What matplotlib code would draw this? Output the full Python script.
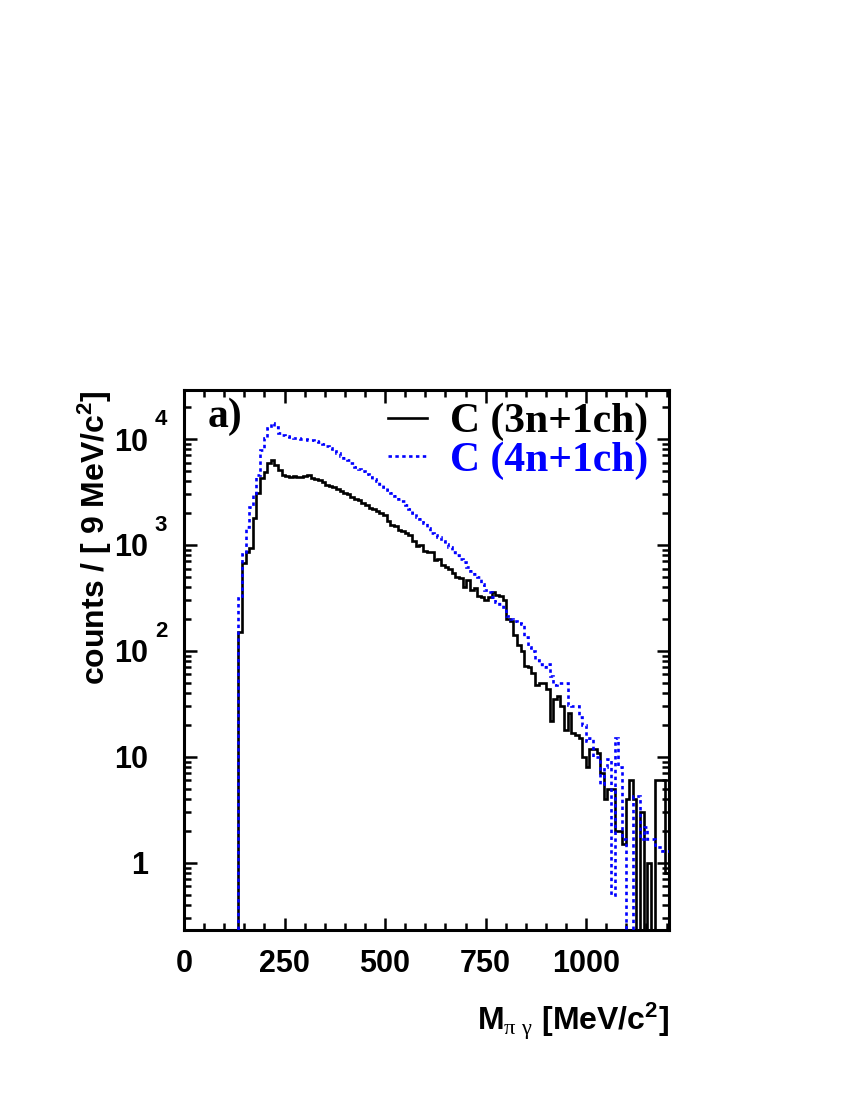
import numpy as np
import matplotlib.pyplot as plt
from matplotlib.lines import Line2D
from matplotlib.ticker import FixedLocator, MultipleLocator, LogLocator, NullFormatter
import matplotlib.transforms as mtransforms

plt.rcParams['mathtext.fontset'] = 'custom'
plt.rcParams['mathtext.rm'] = 'Liberation Sans:bold'
plt.rcParams['mathtext.it'] = 'Liberation Sans:bold'
plt.rcParams['mathtext.bf'] = 'Liberation Sans:bold'
plt.rcParams['mathtext.sf'] = 'Liberation Serif'

# 9 MeV bins from 0 to 1206 MeV/c^2
bin_width = 9
n_bins = 134
edges = np.arange(n_bins + 1) * bin_width

# C (3n+1ch), counts per bin
counts_3n = [0, 0, 0, 0, 0, 0, 0, 0, 0, 0, 0, 0, 0, 0, 0,
             150, 680, 860, 940, 1780, 3100, 4300, 4850, 6000, 6300,
             5700, 5100, 4600, 4500, 4400, 4500, 4400, 4350, 4500, 4600,
             4300, 4200, 4100, 3900, 3700, 3600, 3550, 3400, 3200, 3100,
             3050, 2850, 2700, 2650, 2500, 2400, 2250, 2200, 2100, 2000,
             1900, 1700, 1550, 1500, 1400, 1350, 1300, 1250, 1100, 980,
             1000, 880, 860, 850, 720, 740, 650, 620, 600, 540,
             500, 490, 400, 470, 380, 390, 330, 320, 300, 320,
             360, 340, 330, 300, 200, 190, 140, 115, 100, 72,
             70, 62, 48, 50, 50, 44, 22, 35, 38, 30,
             18, 26, 17, 16, 15, 10, 8, 12, 12, 11,
             7, 4, 5, 5, 2, 2, 1.5, 4, 6, 4,
             0, 3, 0, 1, 0, 6, 6, 6, 0.8]

# C (4n+1ch), counts per bin
counts_4n = [0, 0, 0, 0, 0, 0, 0, 0, 0, 0, 0, 0, 0, 0, 0,
             316, 830, 1480, 2300, 2950, 4600, 7900, 10200, 12700, 14100,
             13000, 11400, 10900, 10700, 10500, 10300, 10200, 10000, 9900, 9800,
             9700, 9600, 9300, 9000, 8600, 8200, 7700, 7300, 6900, 6600,
             6300, 5900, 5500, 5200, 5000, 4700, 4400, 4200, 4000, 3800,
             3550, 3300, 3100, 2900, 2700, 2600, 2400, 2200, 2000, 1850,
             1750, 1600, 1450, 1300, 1250, 1200, 1100, 1030, 950, 860,
             800, 740, 690, 620, 570, 530, 500, 430, 380, 360,
             320, 290, 280, 260, 215, 200, 190, 185, 180, 135,
             110, 100, 82, 75, 70, 75, 58, 48, 50, 50,
             50, 31, 30, 30, 24, 20, 14, 15, 10, 10,
             5.6, 8, 9.5, 0.5, 15, 8, 1.7, 0, 0, 4.3,
             4.3, 1.7, 2.2, 1.7, 1.7, 1.4, 1.4, 1.3, 1.3]

legend_labels = ['C (3n+1ch)', 'C (4n+1ch)']
y_major = [1, 10, 100, 1000, 10000]
y_major_labels = ['1', '10', '10', '10', '10']
y_exponents = ['', '', '2', '3', '4']
x_major = [0, 250, 500, 750, 1000]

fig = plt.figure(figsize=(8.5, 11), dpi=100)
ax = fig.add_axes([184 / 850, 1 - 930 / 1100, 485 / 850, 540 / 1100])

# empty bins sit below the axis floor
v3 = np.where(np.array(counts_3n) > 0, counts_3n, 1e-3)
v4 = np.where(np.array(counts_4n) > 0, counts_4n, 1e-3)

ax.stairs(v3, edges, baseline=None, color='black', lw=1.9, zorder=3)
ax.stairs(v4, edges, baseline=None, color='#0000ff', lw=1.9,
          linestyle=(0, (1.3, 1.3)), zorder=4)

ax.set_yscale('log')
ax.set_xlim(0, edges[-1])
ax.set_ylim(0.233, 29000)

ax.xaxis.set_major_locator(FixedLocator(x_major))
ax.xaxis.set_minor_locator(MultipleLocator(50))
ax.set_xticklabels([str(v) for v in x_major])

ax.yaxis.set_major_locator(FixedLocator(y_major))
ax.yaxis.set_minor_locator(LogLocator(base=10, subs=np.arange(2, 10)))
ax.yaxis.set_minor_formatter(NullFormatter())
ax.set_yticklabels(y_major_labels)

ax.tick_params(which='both', direction='in', top=True, right=True, width=1.8)
ax.tick_params(which='major', length=9)
ax.tick_params(which='minor', length=5)
ax.tick_params(axis='x', which='major', pad=14)
ax.tick_params(axis='y', which='major', pad=26)
for lab in ax.get_xticklabels() + ax.get_yticklabels():
    lab.set_fontfamily('Liberation Sans')
    lab.set_fontweight('bold')
    lab.set_fontsize(22)
for sp in ax.spines.values():
    sp.set_linewidth(2.2)

# ROOT-style exponents to the right of the "10"
trans = mtransforms.blended_transform_factory(ax.transAxes, ax.transData)
for val, ex in zip(y_major, y_exponents):
    if ex:
        ax.annotate(ex, xy=(0, val), xycoords=trans, xytext=(-21, 14),
                    textcoords='offset points', ha='left', va='center',
                    fontsize=16, fontweight='bold', family='Liberation Sans',
                    annotation_clip=False)

ax.text(0.049, 0.931, 'a)', transform=ax.transAxes, fontsize=30,
        fontweight='bold', family='Liberation Serif', va='baseline')

handles = [Line2D([], [], color='black', lw=1.9),
           Line2D([], [], color='#0000ff', lw=1.9, linestyle=(0, (1.3, 1.3)))]
leg = ax.legend(handles, legend_labels, loc='upper left',
                bbox_to_anchor=(0.4206, 0.976), frameon=False,
                borderpad=0, borderaxespad=0, handlelength=0.94,
                handletextpad=0.55, labelspacing=0.0,
                prop={'family': 'Liberation Serif', 'weight': 'bold', 'size': 30})
for txt, col in zip(leg.get_texts(), ['black', '#0000ff']):
    txt.set_color(col)

fig.text(105 / 850, 1 - 390 / 1100, r'counts / [ 9 MeV/c$^{2}$]',
         rotation=90, rotation_mode='anchor', ha='right', va='baseline',
         fontsize=23, fontweight='bold', family='Liberation Sans')
fig.text(669 / 850, 1 - 1030 / 1100, r'M$_{\mathsf{\pi\ \gamma}}$ [MeV/c$^{2}$]',
         ha='right', va='baseline', fontsize=23, fontweight='bold',
         family='Liberation Sans')

fig.savefig('out.png', dpi=100)
